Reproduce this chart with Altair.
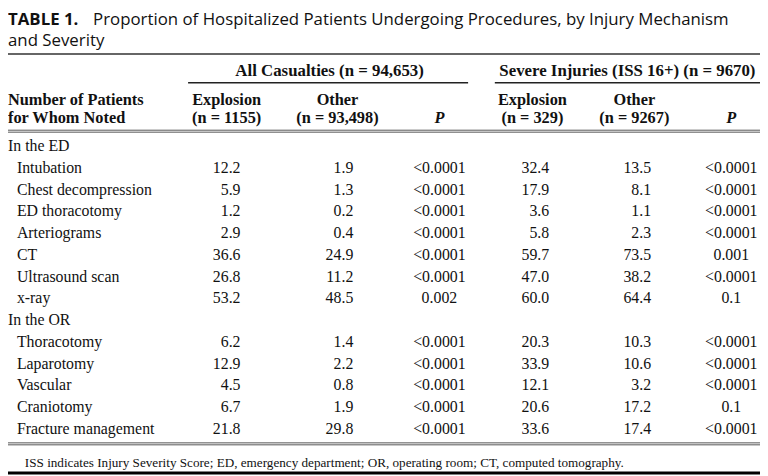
import altair as alt
import pandas as pd

# ---------------- data ----------------
TITLE_LABEL = "TABLE 1."
TITLE_LINE1 = "Proportion of Hospitalized Patients Undergoing Procedures, by Injury Mechanism"
TITLE_LINE2 = "and Severity"
GROUP_HEADERS = ["All Casualties (n = 94,653)", "Severe Injuries (ISS 16+) (n = 9670)"]
STUB_HEADER = ["Number of Patients", "for Whom Noted"]
COL_TOP = ["Explosion", "Other", "Explosion", "Other"]
COL_BOTTOM = ["(n = 1155)", "(n = 93,498)", "(n = 329)", "(n = 9267)"]
P_LABEL = "P"

SECTIONS = ["In the ED", "In the OR"]
ED_PROCEDURES = ["Intubation", "Chest decompression", "ED thoracotomy", "Arteriograms",
                 "CT", "Ultrasound scan", "x-ray"]
OR_PROCEDURES = ["Thoracotomy", "Laparotomy", "Vascular", "Craniotomy", "Fracture management"]

ALL_EXPLOSION = [12.2, 5.9, 1.2, 2.9, 36.6, 26.8, 53.2, 6.2, 12.9, 4.5, 6.7, 21.8]
ALL_OTHER = [1.9, 1.3, 0.2, 0.4, 24.9, 11.2, 48.5, 1.4, 2.2, 0.8, 1.9, 29.8]
ALL_P = ["<0.0001"] * 6 + ["0.002"] + ["<0.0001"] * 5
SEVERE_EXPLOSION = [32.4, 17.9, 3.6, 5.8, 59.7, 47.0, 60.0, 20.3, 33.9, 12.1, 20.6, 33.6]
SEVERE_OTHER = [13.5, 8.1, 1.1, 2.3, 73.5, 38.2, 64.4, 10.3, 10.6, 3.2, 17.2, 17.4]
SEVERE_P = ["<0.0001"] * 4 + ["0.001", "<0.0001", "0.1"] + ["<0.0001"] * 3 + ["0.1", "<0.0001"]

FOOTNOTE = ("ISS indicates Injury Severity Score; ED, emergency department; "
            "OR, operating room; CT, computed tomography.")

# ---------------- layout (page pixels) ----------------
W, H = 760, 468
X0, Y0 = 8, 8
L = dict(
    title1_y=18, title2_y=39, title_rule_y=52,
    group_y=69, group_rule_y=81,
    head1_y=99, head2_y=117, head_rule_y=130,
    first_y=145, row_h=22,
    stub_x=8, row_x=17, title_text_x=94,
    val_right=[243, 357, 555, 658], p_center=[444, 739],
    col_center=[229, 341, 538, 641],
    group_center=[333, 634], group_rule=[(190, 473), (500, 768)],
    bottom_rule_y=446, foot_y=465.5, foot_x=25, bar_y=475.5,
)

SERIF = "Liberation Serif"
SANS = "Open Sans"
INK = "#111111"

XS = alt.Scale(domain=[X0, X0 + W], nice=False, zero=False)
YS = alt.Scale(domain=[Y0, Y0 + H], reverse=True, nice=False, zero=False)


def text_layer(rows, **mark):
    df = pd.DataFrame(rows, columns=["text", "x", "y"])
    return alt.Chart(df).mark_text(color=INK, baseline="middle", **mark).encode(
        x=alt.X("x:Q", scale=XS, axis=None),
        y=alt.Y("y:Q", scale=YS, axis=None),
        text="text:N",
    )


def rule_layer(rows, width, color="#222222"):
    df = pd.DataFrame(rows, columns=["x", "x2", "y"])
    return alt.Chart(df).mark_rule(color=color, strokeWidth=width).encode(
        x=alt.X("x:Q", scale=XS, axis=None),
        x2="x2:Q",
        y=alt.Y("y:Q", scale=YS, axis=None),
    )


# body rows
body_rows = []  # (label, kind, y, index)
y = L["first_y"]
idx = 0
for sec, procs in zip(SECTIONS, [ED_PROCEDURES, OR_PROCEDURES]):
    body_rows.append((sec, "section", y, None))
    y += L["row_h"]
    for p in procs:
        body_rows.append((p, "row", y, idx))
        idx += 1
        y += L["row_h"]

stub_sections = [(t, L["stub_x"], yy) for t, k, yy, _ in body_rows if k == "section"]
stub_rows = [(t, L["row_x"], yy) for t, k, yy, _ in body_rows if k == "row"]

value_cols = [ALL_EXPLOSION, ALL_OTHER, SEVERE_EXPLOSION, SEVERE_OTHER]
p_cols = [ALL_P, SEVERE_P]
num_cells = []
p_cells = []
for t, k, yy, i in body_rows:
    if k != "row":
        continue
    for c, vals in enumerate(value_cols):
        num_cells.append((f"{vals[i]:.1f}", L["val_right"][c], yy))
    for c, vals in enumerate(p_cols):
        p_cells.append((vals[i], L["p_center"][c], yy))

layers = []

# title
layers.append(text_layer([(TITLE_LABEL, X0, L["title1_y"])], font=SANS, fontSize=17,
                         fontWeight="bold", align="left"))
layers.append(text_layer([(TITLE_LINE1, L["title_text_x"], L["title1_y"]),
                          (TITLE_LINE2, X0, L["title2_y"])],
                         font=SANS, fontSize=17, align="left"))

# group headers
layers.append(text_layer([(g, cx, L["group_y"]) for g, cx in zip(GROUP_HEADERS, L["group_center"])],
                         font=SERIF, fontSize=17, fontWeight="bold", align="center"))
# stub header
layers.append(text_layer([(STUB_HEADER[0], L["stub_x"], L["head1_y"]),
                          (STUB_HEADER[1], L["stub_x"], L["head2_y"])],
                         font=SERIF, fontSize=16.5, fontWeight="bold", align="left"))
# column headers
col_rows = [(t, cx, L["head1_y"]) for t, cx in zip(COL_TOP, L["col_center"])]
col_rows += [(t, cx, L["head2_y"]) for t, cx in zip(COL_BOTTOM, L["col_center"])]
layers.append(text_layer(col_rows, font=SERIF, fontSize=16.5, fontWeight="bold", align="center"))
layers.append(text_layer([(P_LABEL, cx, L["head2_y"]) for cx in L["p_center"]],
                         font=SERIF, fontSize=16.5, fontWeight="bold", fontStyle="italic",
                         align="center"))

# body
layers.append(text_layer(stub_sections + stub_rows, font=SERIF, fontSize=16, align="left"))
layers.append(text_layer(num_cells, font=SERIF, fontSize=16, align="right"))
layers.append(text_layer(p_cells, font=SERIF, fontSize=16, align="center"))

# footnote
layers.append(text_layer([(FOOTNOTE, L["foot_x"], L["foot_y"])], font=SERIF, fontSize=13.3,
                         align="left"))

# rules
layers.append(rule_layer([(X0, X0 + W, L["title_rule_y"])], 1.5, "#333333"))
layers.append(rule_layer([(a, b, L["group_rule_y"]) for a, b in L["group_rule"]], 1.5, "#222222"))
layers.append(rule_layer([(X0, X0 + W, L["head_rule_y"] - 1), (X0, X0 + W, L["head_rule_y"] + 1),
                          (X0, X0 + W, L["bottom_rule_y"] - 1), (X0, X0 + W, L["bottom_rule_y"] + 1)],
                         1, "#555555"))
layers.append(rule_layer([(X0, X0 + W, L["bar_y"])], 3, "#000000"))

chart = alt.layer(*layers).properties(
    width=W, height=H,
    autosize=alt.AutoSizeParams(type="none"),
    padding=0,
    background="white",
).configure_view(stroke=None)

chart.save("out.html", embed_options={"renderer": "svg", "actions": False})
